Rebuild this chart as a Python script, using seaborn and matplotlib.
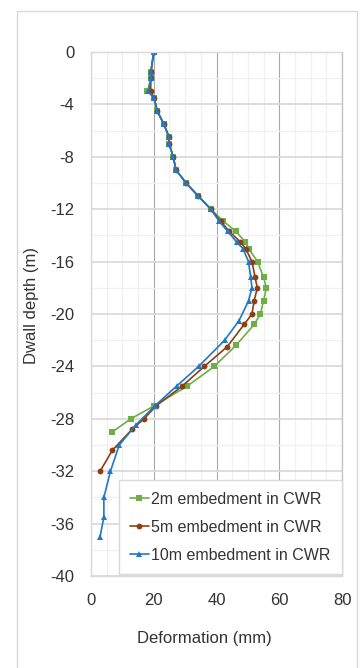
import matplotlib
matplotlib.use("Agg")
import matplotlib.pyplot as plt
import matplotlib.patches as mpatches
from matplotlib.ticker import MultipleLocator
import seaborn as sns

# ---- data ----
depth_2m = [0, -1.5, -2, -3, -3.5, -4.5, -5.5, -6.5, -7, -8, -9, -10, -11, -12, -12.9,
            -13.7, -14.5, -15, -16, -17.2, -18, -19, -20, -20.8, -22.4, -24, -25.5, -27, -28, -29]
defo_2m = [20.0, 19.1, 19.1, 18.0, 20.1, 21.1, 23.2, 24.9, 24.9, 26.2, 27.1, 30.3, 34.2, 38.2, 42.1,
           46.2, 49.2, 50.2, 53.1, 55.0, 55.9, 55.0, 54.0, 52.0, 46.2, 39.3, 30.7, 20.2, 12.7, 6.8]

depth_5m = [0, -1.5, -2, -3, -3.5, -4.5, -5.5, -6.5, -7, -8, -9, -10, -11, -12, -12.9,
            -13.7, -14.5, -15, -16, -17.2, -18, -19, -20, -20.8, -22.5, -24, -25.5, -27, -28, -28.8, -30.4, -32]
defo_5m = [20.0, 19.1, 19.1, 19.0, 20.1, 21.1, 23.2, 24.9, 24.9, 26.2, 27.1, 30.3, 34.2, 38.2, 41.3,
           44.1, 47.6, 49.3, 51.3, 52.3, 53.0, 52.0, 51.3, 48.8, 43.4, 36.1, 29.1, 20.8, 16.9, 13.1, 6.8, 2.9]

depth_10m = [0, -1.5, -2, -3, -3.5, -4.5, -5.5, -6.5, -7, -8, -9, -10, -11, -12, -12.9,
             -13.7, -14.5, -15, -16, -17.2, -18, -19, -20.5, -22, -24, -25.5, -27, -28.5, -30, -32, -34, -35.5, -37]
defo_10m = [20.0, 19.1, 19.1, 18.3, 20.1, 21.1, 23.2, 24.9, 24.9, 26.2, 27.1, 30.3, 34.2, 38.2, 40.8,
            43.6, 46.4, 48.4, 50.2, 50.9, 51.3, 50.2, 47.2, 42.6, 34.3, 27.3, 20.4, 14.2, 9.0, 6.2, 4.1, 4.1, 2.9]

series_labels = ["2m embedment in CWR", "5m embedment in CWR", "10m embedment in CWR"]
x_ticks = [0, 20, 40, 60, 80]
y_ticks = [0, -4, -8, -12, -16, -20, -24, -28, -32, -36, -40]
x_label = "Deformation (mm)"
y_label = "Dwall depth (m)"

# ---- style ----
sns.set_style("white")
plt.rcParams["font.family"] = ["Liberation Sans", "DejaVu Sans"]
plt.rcParams["axes.unicode_minus"] = False

W, H = 361, 668
fig = plt.figure(figsize=(W / 100, H / 100), dpi=100)
ax = fig.add_axes([91 / W, (H - 576) / H, 251 / W, 524 / H])

# outer chart border
fig.patches.append(mpatches.Rectangle((17 / W, -0.02), (357 - 17) / W, (H - 11) / H + 0.02,
                                      transform=fig.transFigure, fill=False,
                                      edgecolor="#D9D9D9", linewidth=1.0))

colors = ["#70AD47", "#8E3F12", "#1F78C8"]
markers = ["s", "o", "^"]
datasets = [(defo_2m, depth_2m), (defo_5m, depth_5m), (defo_10m, depth_10m)]
for (xs, ys), c, m, lab in zip(datasets, colors, markers, series_labels):
    sns.lineplot(x=xs, y=ys, sort=False, estimator=None, color=c, marker=m,
                 markersize=4.2, markeredgewidth=0, linewidth=1.2, label=lab, ax=ax)

ax.set_xlim(0, 80)
ax.set_ylim(-40, 0)
ax.set_xticks(x_ticks)
ax.set_yticks(y_ticks)
ax.set_xticklabels([str(v) for v in x_ticks])
ax.set_yticklabels([str(v) for v in y_ticks])
ax.xaxis.set_minor_locator(MultipleLocator(5))
ax.yaxis.set_minor_locator(MultipleLocator(2))

ax.set_axisbelow(True)
ax.grid(which="minor", axis="both", color="#F0F0F0", linewidth=0.9)
ax.grid(which="major", axis="y", color="#DADADA", linewidth=1.3)
ax.grid(which="major", axis="x", color="#A8A8A8", linewidth=0.8)

for side, sp in ax.spines.items():
    sp.set_visible(True)
    sp.set_color("#D9D9D9")
    sp.set_linewidth(1.0)
ax.spines["right"].set_color("#C4C4C4")

ax.tick_params(axis="y", which="major", direction="out", length=5, width=1.0,
               color="#D9D9D9", pad=7, labelsize=12, labelcolor="#333333")
ax.tick_params(axis="x", which="major", direction="in", length=5, width=0.8,
               color="#BFBFBF", pad=12, labelsize=12, labelcolor="#333333")
ax.tick_params(axis="both", which="minor", length=0)

ax.set_xlabel(x_label, fontsize=12, color="#333333")
ax.set_ylabel(y_label, fontsize=12, color="#333333")
ax.xaxis.set_label_coords((204.5 - 91) / 251, (576 - 639) / 524)
ax.xaxis.label.set_va("center")
ax.yaxis.set_label_coords((32 - 91) / 251, (576 - 306) / 524)
ax.yaxis.label.set_va("center")

leg = ax.legend(loc="lower right", bbox_to_anchor=(1.0, 0.004), borderaxespad=0,
                fontsize=11.5, frameon=True, fancybox=False, edgecolor="#D9D9D9",
                facecolor="white", framealpha=1, handlelength=1.2, handletextpad=0.15,
                labelspacing=0.82, borderpad=0.7, labelcolor="#333333")
leg.get_frame().set_linewidth(1.0)

fig.savefig("out.png", dpi=100)
